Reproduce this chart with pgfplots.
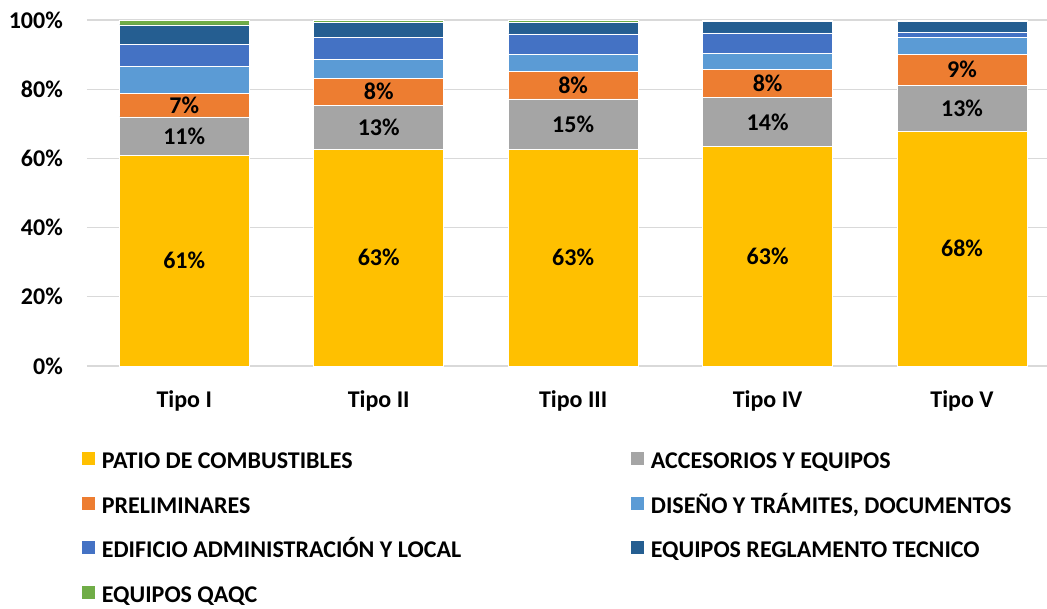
\documentclass[border=0pt]{standalone}
\usepackage{fontspec}
\setmainfont{Carlito}
\usepackage{pgfplots}
\pgfplotsset{compat=1.18}
\definecolor{cYel}{HTML}{FFC000}
\definecolor{cGry}{HTML}{A5A5A5}
\definecolor{cOra}{HTML}{ED7D31}
\definecolor{cLbl}{HTML}{5B9BD5}
\definecolor{cBlu}{HTML}{4472C4}
\definecolor{cDbl}{HTML}{255E91}
\definecolor{cGrn}{HTML}{70AD47}
\definecolor{gridc}{HTML}{D9D9D9}
\newcommand\ff{\bfseries\fontsize{24}{28}\selectfont}
\pgfplotsset{base/.style={scale only axis, width=960pt, height=346pt,
  xmin=-0.5, xmax=4.437, ymin=0, ymax=100, clip=false}}
\begin{document}
\begin{tikzpicture}
\begin{axis}[base, ybar stacked, bar width=130pt,
  axis line style={draw=none}, major tick length=0pt,
  ytick={0,20,40,60,80,100}, yticklabels={0\%,20\%,40\%,60\%,80\%,100\%},
  ymajorgrids, grid style={color=gridc, line width=1.2pt},
  xtick={0,1,2,3,4}, xticklabels={Tipo I,Tipo II,Tipo III,Tipo IV,Tipo V},
  ticklabel style={font=\ff},
  yticklabel style={inner sep=0pt, anchor=east, xshift=-24pt},
  xticklabel style={inner sep=0pt, anchor=north, yshift=-24pt},
  legend image code/.code={\fill[#1,draw=none] (0pt,-4.5pt) rectangle (13pt,8.5pt);},
  legend columns=2,
  legend cell align=left,
  legend style={draw=none, fill=none, at={(0,0)}, anchor=north west,
    xshift=-5.3pt, yshift=-86pt, inner sep=0pt, column sep=7pt, row sep=28pt,
    nodes={inner sep=0pt, font=\ff, text height=16pt, text depth=0pt}},
  every axis plot/.append style={draw=white, line width=0.6pt},
]
\addplot[fill=cYel] coordinates {(0,60.8) (1,62.7) (2,62.6) (3,63.4) (4,67.8)};
\addlegendentry{\makebox[522pt][l]{PATIO DE COMBUSTIBLES}}
\addplot[fill=cGry] coordinates {(0,11.2) (1,12.6) (2,14.6) (3,14.3) (4,13.4)};
\addlegendentry{ACCESORIOS Y EQUIPOS}
\addplot[fill=cOra] coordinates {(0,6.9) (1,7.9) (2,7.9) (3,8.1) (4,8.9)};
\addlegendentry{\makebox[522pt][l]{PRELIMINARES}}
\addplot[fill=cLbl] coordinates {(0,7.8) (1,5.5) (2,5.0) (3,4.6) (4,4.9)};
\addlegendentry{DISEÑO Y TRÁMITES, DOCUMENTOS}
\addplot[fill=cBlu] coordinates {(0,6.3) (1,6.3) (2,5.9) (3,5.9) (4,1.5)};
\addlegendentry{\makebox[522pt][l]{EDIFICIO ADMINISTRACIÓN Y LOCAL}}
\addplot[fill=cDbl] coordinates {(0,5.6) (1,4.2) (2,3.4) (3,3.2) (4,3.1)};
\addlegendentry{EQUIPOS REGLAMENTO TECNICO}
\addplot[fill=cGrn] coordinates {(0,1.4) (1,0.8) (2,0.6) (3,0.5) (4,0.4)};
\addlegendentry{\makebox[522pt][l]{EQUIPOS QAQC}}
\coordinate (O) at (rel axis cs:0,0);
\end{axis}
\begin{axis}[base, hide axis]
\addplot[draw=none, nodes near coords, point meta=explicit symbolic,
  every node near coord/.append style={anchor=center, font=\ff, inner sep=0pt, text=black}]
  coordinates {
  (0,30.4)[61\%] (1,31.35)[63\%] (2,31.3)[63\%] (3,31.7)[63\%] (4,33.9)[68\%]
  (0,66.4)[11\%] (1,69.0)[13\%] (2,69.9)[15\%] (3,70.55)[14\%] (4,74.5)[13\%]
  (0,75.45)[7\%] (1,79.25)[8\%] (2,81.15)[8\%] (3,81.75)[8\%] (4,85.65)[9\%]
  };
\end{axis}
\pgfresetboundingbox
\path ([shift={(-87pt,-242pt)}]O) rectangle ([shift={(960pt,366pt)}]O);
\end{tikzpicture}
\end{document}
